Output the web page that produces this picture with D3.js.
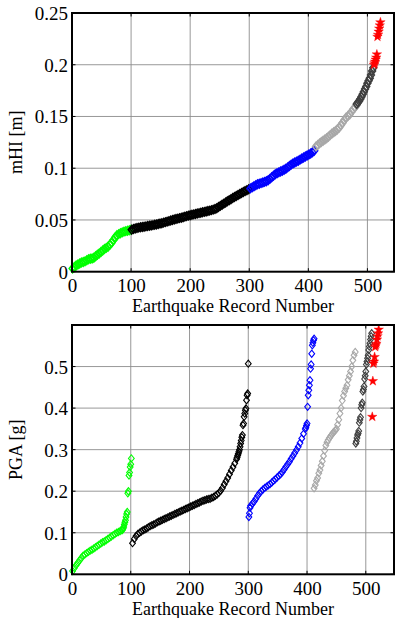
<!DOCTYPE html>
<html><head><meta charset="utf-8">
<script src="https://cdn.jsdelivr.net/npm/d3@7"></script>
<style>
body{margin:0;background:#fff}
svg{display:block}
text{font-family:"Liberation Serif","Times New Roman",serif;fill:#000}
</style>
</head><body>
<svg id="c" width="395" height="618"></svg>
<script>
// ---------- tick labels ----------
const xTickValues = [0, 100, 200, 300, 400, 500];
const mhiTicks = [0, 0.05, 0.1, 0.15, 0.2, 0.25];
const pgaTicks = [0, 0.1, 0.2, 0.3, 0.4, 0.5];

// ---------- top panel: mHI [m], sorted records ----------
// each series: first record number, record step, values
const mhiGreenStart = 1,   mhiGreenStep = 3;
const mhiGreen = [0.003,0.0045,0.006,0.007,0.008,0.0088,0.0094,0.0100,0.011,0.012,0.0125,0.0128,0.0135,0.015,0.0163,0.0175,0.019,0.0205,0.022,0.023,0.0242,0.026,0.028,0.0305,0.033,0.0352,0.0363,0.0372,0.038,0.0387,0.0392,0.0396,0.040,0.0405];
const mhiBlackStart = 101, mhiBlackStep = 3;
const mhiBlack = [0.0405,0.0412,0.0418,0.0422,0.0426,0.0429,0.0432,0.0435,0.0438,0.0441,0.0444,0.0447,0.045,0.0453,0.0457,0.0461,0.0465,0.0469,0.0474,0.0479,0.0484,0.0489,0.0494,0.0499,0.0504,0.0509,0.0513,0.0518,0.0522,0.0527,0.0532,0.0537,0.0542,0.0546,0.055,0.0554,0.0558,0.0562,0.0566,0.057,0.0574,0.0578,0.0582,0.0586,0.059,0.0595,0.06,0.0606,0.0614,0.0625,0.0636,0.0647,0.0658,0.0669,0.068,0.069,0.0701,0.0712,0.0722,0.0732,0.0741,0.0751,0.076,0.077,0.0779,0.0788,0.0797];
const mhiBlueStart = 302,  mhiBlueStep = 3;
const mhiBlue = [0.0805,0.0815,0.0825,0.0835,0.0845,0.085,0.0856,0.0862,0.0868,0.0875,0.0884,0.0897,0.0912,0.0928,0.0942,0.0952,0.096,0.0968,0.0976,0.0985,0.0995,0.1008,0.1022,0.1035,0.1046,0.1055,0.1064,0.1073,0.1083,0.1093,0.1103,0.1113,0.1122,0.1132,0.1142,0.1155,0.1168];
const mhiGrayStart = 413,  mhiGrayStep = 3;
const mhiGray = [0.121,0.1225,0.124,0.1253,0.1265,0.1278,0.129,0.1305,0.132,0.1335,0.1348,0.136,0.1375,0.139,0.1415,0.144,0.1465,0.149,0.1505,0.152,0.1545,0.157,0.159,0.161];
const mhiDarkStart = 482,  mhiDarkStep = 2;
const mhiDark = [0.162,0.1635,0.165,0.167,0.169,0.1715,0.174,0.1765,0.179,0.182,0.1845,0.187,0.19,0.194,0.197];
const mhiRedStart = 511,   mhiRedStep = 1;
const mhiRed = [0.2,0.2015,0.203,0.205,0.207,0.21,0.227,0.229,0.232,0.235,0.238,0.241];

// ---------- bottom panel: PGA [g] ----------
const pgaGreenStart = 1,      pgaGreenStep = 3;
const pgaGreen = [0.008,0.015,0.022,0.028,0.034,0.039,0.045,0.048,0.051,0.054,0.057,0.059,0.062,0.065,0.068,0.071,0.074,0.077,0.079,0.082,0.085,0.088,0.091,0.094,0.097,0.1,0.102,0.104,0.106];
const pgaGreenTailStart = 86, pgaGreenTailStep = 1;
const pgaGreenTail = [0.107,0.11,0.114,0.12,0.125,0.13,0.138,0.145,0.15,0.195,0.2,0.238,0.245,0.258,0.265,0.279];
const pgaBlackStart = 103,    pgaBlackStep = 3;
const pgaBlack = [0.075,0.085,0.092,0.097,0.1,0.103,0.106,0.108,0.11,0.113,0.116,0.118,0.12,0.122,0.125,0.127,0.129,0.131,0.133,0.135,0.137,0.139,0.141,0.143,0.145,0.147,0.149,0.151,0.153,0.155,0.157,0.159,0.161,0.163,0.165,0.167,0.169,0.171,0.173,0.175,0.177,0.178,0.18,0.181,0.182,0.184,0.186,0.189,0.192,0.196,0.201,0.208,0.216,0.224,0.232,0.241,0.25,0.258,0.267,0.277];
const pgaBlackTailStart = 281, pgaBlackTailStep = 1;
const pgaBlackTail = [0.281,0.286,0.29,0.295,0.3,0.307,0.315,0.322,0.33,0.335,0.359,0.363,0.379,0.387,0.395,0.399,0.419,0.431,0.435,0.507];
const pgaBlueHeadStart = 301, pgaBlueHeadStep = 1;
const pgaBlueHead = [0.138,0.147,0.16];
const pgaBlueStart = 304,     pgaBlueStep = 3;
const pgaBlue = [0.165,0.17,0.175,0.182,0.189,0.195,0.2,0.204,0.208,0.211,0.214,0.217,0.221,0.225,0.229,0.233,0.237,0.241,0.246,0.252,0.259,0.265,0.271,0.278,0.285,0.292,0.299,0.307,0.316,0.327,0.338,0.35];
const pgaBlueTailStart = 398, pgaBlueTailStep = 1;
const pgaBlueTail = [0.353,0.358,0.363,0.403,0.431,0.443,0.455,0.467,0.495,0.505,0.531,0.551,0.557,0.563,0.567];
const pgaGrayStart = 412,     pgaGrayStep = 2;
const pgaGray = [0.207,0.215,0.225,0.232,0.243,0.251,0.262,0.272,0.285,0.298,0.31,0.318,0.323,0.328,0.332,0.336,0.34,0.343,0.346,0.35,0.36,0.372,0.387,0.4,0.418,0.43,0.44,0.448,0.455,0.468,0.478,0.488,0.5,0.515,0.527,0.535];
const pgaDarkStart = 483,     pgaDarkStep = 1;
const pgaDark = [0.315,0.32,0.328,0.335,0.339,0.345,0.365,0.372,0.378,0.4,0.408,0.413,0.44,0.445,0.452,0.47,0.478,0.488,0.505,0.512,0.52,0.527,0.54,0.548,0.556,0.565,0.573,0.58];
const pgaRedStart = 511,      pgaRedStep = 1;
const pgaRed = [0.379,0.465,0.507,0.512,0.523,0.547,0.551,0.555,0.565,0.573,0.58,0.589];

// ---------- colours ----------
const cGreen = "#00ff00", cBlack = "#000000", cBlue = "#0000ff", cGray = "#a8a8a8", cDark = "#3f3f3f", cRed = "#ff0000";

function pts(start, step, vals){ return vals.map((v,i)=>({rec:start+i*step, v})); }

const topSeries = [
  {c:cGreen, m:"d", d:pts(mhiGreenStart,mhiGreenStep,mhiGreen)},
  {c:cBlack, m:"d", d:pts(mhiBlackStart,mhiBlackStep,mhiBlack)},
  {c:cBlue,  m:"d", d:pts(mhiBlueStart,mhiBlueStep,mhiBlue)},
  {c:cGray,  m:"d", d:pts(mhiGrayStart,mhiGrayStep,mhiGray)},
  {c:cDark,  m:"d", d:pts(mhiDarkStart,mhiDarkStep,mhiDark)},
  {c:cRed,   m:"s", d:pts(mhiRedStart,mhiRedStep,mhiRed)}
];
const botSeries = [
  {c:cGreen, m:"d", d:pts(pgaGreenStart,pgaGreenStep,pgaGreen).concat(pts(pgaGreenTailStart,pgaGreenTailStep,pgaGreenTail))},
  {c:cBlack, m:"d", d:pts(pgaBlackStart,pgaBlackStep,pgaBlack).concat(pts(pgaBlackTailStart,pgaBlackTailStep,pgaBlackTail))},
  {c:cBlue,  m:"d", d:pts(pgaBlueHeadStart,pgaBlueHeadStep,pgaBlueHead).concat(pts(pgaBlueStart,pgaBlueStep,pgaBlue),pts(pgaBlueTailStart,pgaBlueTailStep,pgaBlueTail))},
  {c:cGray,  m:"d", d:pts(pgaGrayStart,pgaGrayStep,pgaGray)},
  {c:cDark,  m:"d", d:pts(pgaDarkStart,pgaDarkStep,pgaDark)},
  {c:cRed,   m:"s", d:pts(pgaRedStart,pgaRedStep,pgaRed)}
];

const svg = d3.select("#c");
const star = d3.symbol(d3.symbolStar, 28)();

function panel(o){
  const x = d3.scaleLinear().domain([0, o.xmax]).range([72, 394]);
  const y = d3.scaleLinear().domain([0, o.ymax]).range([o.y0, o.y1]);
  const diamond = `M0,${-o.dh}L${o.dw},0L0,${o.dh}L${-o.dw},0Z`;
  const g = svg.append("g");
  // grid
  g.append("g").selectAll("line").data(xTickValues.slice(1)).join("line")
    .attr("x1",d=>x(d)).attr("x2",d=>x(d)).attr("y1",o.y0).attr("y2",o.y1)
    .attr("stroke","#8c8c8c").attr("stroke-width",0.9);
  g.append("g").selectAll("line").data(o.yticks.slice(1)).join("line")
    .attr("y1",d=>y(d)).attr("y2",d=>y(d)).attr("x1",72).attr("x2",394)
    .attr("stroke","#8c8c8c").attr("stroke-width",0.9);
  // markers
  o.series.forEach(s=>{
    g.append("g").selectAll("path").data(s.d).join("path")
      .attr("transform",d=>`translate(${x(d.rec)},${y(d.v)})`)
      .attr("d", s.m==="s" ? star : diamond)
      .attr("fill", s.m==="s" ? s.c : "none")
      .attr("stroke", s.c).attr("stroke-width", s.m==="s" ? 0.4 : o.sw);
  });
  // ticks (inward) on all sides
  const tl = 3.5;
  xTickValues.forEach(t=>{
    g.append("line").attr("x1",x(t)).attr("x2",x(t)).attr("y1",o.y0).attr("y2",o.y0-tl).attr("stroke","#000");
    g.append("line").attr("x1",x(t)).attr("x2",x(t)).attr("y1",o.y1).attr("y2",o.y1+tl).attr("stroke","#000");
  });
  o.yticks.forEach(t=>{
    g.append("line").attr("y1",y(t)).attr("y2",y(t)).attr("x1",72).attr("x2",72+tl).attr("stroke","#000");
    g.append("line").attr("y1",y(t)).attr("y2",y(t)).attr("x1",394).attr("x2",394-tl).attr("stroke","#000");
  });
  // frame
  g.append("rect").attr("x",72).attr("y",o.y1).attr("width",322).attr("height",o.y0-o.y1)
    .attr("fill","none").attr("stroke","#000").attr("stroke-width",2);
  // tick labels via d3 axes
  const ax = g.append("g").attr("transform",`translate(0,${o.y0})`)
    .call(d3.axisBottom(x).tickValues(xTickValues).tickSize(0).tickPadding(0).tickFormat(d3.format("d")));
  ax.select(".domain").remove();
  ax.selectAll("text").attr("y", o.xtickBase - o.y0).attr("dy",0)
    .style("font-family",'"Liberation Serif",serif').style("font-size","19px").attr("fill","#000");
  const ay = g.append("g").attr("transform","translate(68,0)")
    .call(d3.axisLeft(y).tickValues(o.yticks).tickSize(0).tickPadding(0).tickFormat(d=>String(d)));
  ay.select(".domain").remove();
  ay.selectAll("text").attr("x",0).attr("dy","0.34em")
    .style("font-family",'"Liberation Serif",serif').style("font-size","19px").attr("fill","#000");
  // titles
  g.append("text").attr("x",233).attr("y",o.xlabBase).attr("text-anchor","middle")
    .style("font-size","18px").text("Earthquake Record Number");
  g.append("text").attr("transform",`translate(22,${(o.y0+o.y1)/2}) rotate(-90)`)
    .attr("text-anchor","middle").style("font-size","18px").text(o.ylabel);
}

panel({xmax:545, ymax:0.25, y0:271.7, y1:13, yticks:mhiTicks, series:topSeries,
       xtickBase:292, xlabBase:312, ylabel:"mHI [m]", dw:3.4, dh:4.2, sw:1.6});
panel({xmax:548, ymax:0.6, y0:574.3, y1:325, yticks:pgaTicks, series:botSeries,
       xtickBase:595, xlabBase:614.5, ylabel:"PGA [g]", dw:2.9, dh:3.6, sw:1.1});
</script>
</body></html>
